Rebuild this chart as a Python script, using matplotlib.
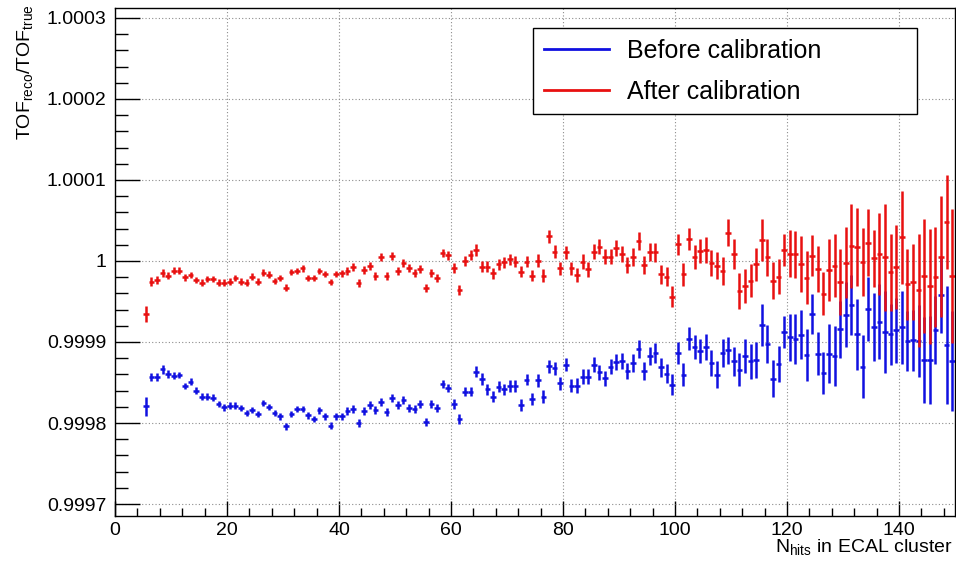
import numpy as np
import matplotlib
matplotlib.use('Agg')
import matplotlib.pyplot as plt
from matplotlib.ticker import FixedLocator, FixedFormatter, MultipleLocator
from matplotlib.lines import Line2D

plt.rcParams['font.family'] = ['Liberation Sans', 'DejaVu Sans']
plt.rcParams['mathtext.fontset'] = 'custom'
plt.rcParams['mathtext.rm'] = 'Liberation Sans'
plt.rcParams['mathtext.it'] = 'Liberation Sans:italic'

# ---------------- data ----------------
first_bin = 5  # bins of width 1, from N_hits = 5 to 149

# deviation of TOF_reco/TOF_true from 1, in units of 1e-6
before_dev_ppm = [
    -179.6, -142.9, -142.9, -133.9, -139.6, -141.6, -140.8, -154.3, -149.0, -160.0,
    -167.3, -167.3, -168.6, -176.3, -180.8, -178.4, -178.4, -181.6, -187.8, -183.7,
    -189.0, -175.5, -180.4, -187.8, -191.8, -204.1, -189.0, -182.4, -182.9, -190.6,
    -195.1, -184.5, -191.8, -203.3, -191.8, -191.8, -185.7, -182.9, -200.0, -185.7,
    -177.6, -184.5, -174.3, -186.5, -168.6, -177.6, -171.4, -181.6, -182.9, -176.7,
    -199.2, -176.7, -181.6, -152.2, -157.1, -176.3, -194.7, -161.2, -161.2, -136.7,
    -145.7, -158.4, -167.3, -155.1, -158.4, -154.3, -154.3, -177.6, -146.5, -170.2,
    -147.3, -167.3, -129.8, -132.7, -151.0, -127.8, -153.9, -153.9, -142.9, -142.9,
    -127.8, -137.6, -144.9, -130.6, -125.0, -123.9, -135.4, -125.9, -108.2, -135.4,
    -116.9, -113.6, -131.3, -139.1, -152.7, -113.6, -140.3, -95.9, -106.6, -110.7,
    -106.6, -125.9, -140.3, -113.6, -110.3, -123.9, -134.2, -117.7, -123.9, -122.6,
    -79.4, -102.5, -145.3, -127.2, -87.3, -93.9, -96.7, -91.0, -116.3, -65.3,
    -114.3, -138.8, -114.3, -117.6, -84.5, -66.5, -54.3, -90.6, -130.6, -59.2,
    -81.6, -74.7, -87.8, -90.6, -85.7, -81.6, -98.8, -98.0, -98.8, -122.4,
    -122.4, -85.7, -42.0, -104.1, -123.3,
]

after_dev_ppm = [
    -65.6, -25.4, -23.4, -15.2, -18.0, -11.9, -11.9, -20.1, -17.2, -23.4,
    -26.7, -22.1, -22.1, -26.7, -26.7, -25.4, -21.3, -25.4, -26.7, -19.3,
    -25.4, -14.4, -16.8, -25.0, -21.3, -32.8, -13.9, -12.3, -9.0, -21.3,
    -21.3, -12.3, -16.0, -26.2, -16.0, -15.2, -12.3, -7.0, -26.7, -11.1,
    -5.7, -18.5, 5.3, -18.0, 6.1, -11.9, -2.0, -9.0, -15.2, -9.8,
    -33.6, -15.2, -21.3, 9.4, 6.8, -9.0, -35.7, 0.0, 7.4, 13.5,
    -7.0, -7.0, -15.2, -4.1, -1.6, 2.0, -0.8, -13.1, -0.8, -18.0,
    0.4, -18.0, 30.7, 11.5, -9.0, 10.7, -9.0, -17.2, -0.8, -10.2,
    11.5, 17.6, 5.3, 5.3, 16.0, 8.2, -4.9, 5.3, 25.0, -4.9,
    11.5, 10.7, -16.4, -19.3, -43.9, 20.5, -16.4, 27.1, 5.3, 12.3,
    13.5, -2.9, -5.7, -12.3, 34.9, 8.6, -36.9, -30.3, -24.2, -4.1,
    25.8, 4.5, -24.2, -19.3, 13.6, 8.7, 8.3, -3.7, -20.7, 6.6,
    -10.0, -40.2, -11.2, -5.8, -25.7, -2.1, 18.7, 17.0, -1.7, 22.8,
    3.3, 8.7, 4.6, -14.1, -7.1, 29.0, -29.0, -25.7, -36.1, -18.3,
    -31.1, -19.5, 5.4, 47.7, -18.3,
]

before_err_ppm = [
    12, 5, 5, 5, 5, 4, 4, 4, 4, 4,
    4, 4, 4, 4, 4, 4, 4, 4, 4, 4,
    4, 4, 4, 4, 4, 4, 4, 4, 4, 4,
    4, 4, 4, 4, 4, 4, 5, 5, 5, 5,
    5, 5, 5, 5, 5, 5, 5, 5, 5, 5,
    5, 5, 5, 5, 5, 6, 6, 6, 6, 7,
    7, 7, 7, 7, 7, 7, 7, 7, 7, 7,
    8, 8, 8, 8, 8, 8, 8, 9, 9, 9,
    9, 9, 9, 9, 10, 10, 10, 11, 11, 11,
    11, 12, 12, 12, 13, 13, 14, 14, 15, 15,
    16, 16, 17, 17, 17, 18, 20, 21, 22, 22,
    26, 23, 23, 22, 20, 29, 31, 30, 32, 25,
    27, 26, 36, 37, 35, 40, 37, 44, 39, 40,
    42, 46, 51, 38, 40, 45, 37, 38, 45, 53,
    54, 42, 47, 73, 62,
]

after_err_ppm = [
    10, 6, 5, 5, 4, 4, 4, 4, 4, 4,
    4, 4, 4, 4, 4, 4, 4, 4, 4, 4,
    4, 4, 4, 4, 4, 4, 4, 4, 4, 4,
    4, 4, 4, 4, 4, 4, 5, 5, 5, 5,
    5, 5, 5, 5, 5, 5, 5, 5, 5, 5,
    5, 5, 5, 5, 5, 6, 6, 6, 6, 7,
    7, 7, 7, 7, 7, 7, 7, 7, 7, 7,
    8, 8, 8, 8, 8, 8, 8, 9, 9, 9,
    9, 9, 9, 9, 10, 10, 10, 11, 11, 11,
    11, 12, 12, 12, 13, 13, 14, 14, 15, 15,
    16, 16, 17, 17, 17, 18, 22, 21, 20, 20,
    26, 23, 23, 22, 20, 29, 29, 34, 33, 25,
    28, 26, 38, 39, 41, 44, 52, 48, 42, 41,
    35, 51, 66, 48, 52, 57, 44, 47, 70, 70,
    71, 62, 75, 58, 83,
]

series_labels = ['Before calibration', 'After calibration']
series_colors = ['#1010e0', '#e81010']

ytick_values = [0.9997, 0.9998, 0.9999, 1.0, 1.0001, 1.0002, 1.0003]
ytick_labels = ['0.9997', '0.9998', '0.9999', '1', '1.0001', '1.0002', '1.0003']
xtick_values = [0, 20, 40, 60, 80, 100, 120, 140]

# ---------------- figure ----------------
W, H = 956, 561
fig = plt.figure(figsize=(W / 100, H / 100), dpi=100)
ax = fig.add_axes([115 / W, 45 / H, 840 / W, 508 / H])

nhits = np.arange(first_bin, first_bin + len(before_dev_ppm)) + 0.5

for dev, err, col in [(before_dev_ppm, before_err_ppm, series_colors[0]),
                      (after_dev_ppm, after_err_ppm, series_colors[1])]:
    y = 1.0 + np.array(dev) * 1e-6
    e = np.array(err) * 1e-6
    ax.errorbar(nhits, y, xerr=0.5, yerr=e, fmt='none', ecolor=col,
                elinewidth=1.8, capsize=0, zorder=3)

ax.set_xlim(0, 150)
ax.set_ylim(0.9996852, 1.0003123)

ax.yaxis.set_major_locator(FixedLocator(ytick_values))
ax.yaxis.set_major_formatter(FixedFormatter(ytick_labels))
ax.yaxis.set_minor_locator(MultipleLocator(0.00002))
ax.xaxis.set_major_locator(FixedLocator(xtick_values))
ax.xaxis.set_minor_locator(MultipleLocator(4))

ax.tick_params(axis='both', which='both', direction='in', labelsize=14, colors='black')
ax.tick_params(axis='y', which='major', length=18, width=1, pad=6)
ax.tick_params(axis='y', which='minor', length=9, width=1)
ax.tick_params(axis='x', which='major', length=11, width=1, pad=4)
ax.tick_params(axis='x', which='minor', length=5.5, width=1)

ax.grid(True, which='major', linestyle=(0, (1, 2)), color='#8c8c8c', linewidth=0.8, zorder=0)
for sp in ax.spines.values():
    sp.set_linewidth(1)
    sp.set_color('black')

# axis titles (ROOT style: at the end of the axes)
fig.text(953 / W, 1 - 547 / H, r'N$_{\mathrm{hits}}$ in ECAL cluster',
         ha='right', va='center', fontsize=14)
fig.text(25 / W, 1 - 4 / H, r'TOF$_{\mathrm{reco}}$/TOF$_{\mathrm{true}}$',
         ha='center', va='top', rotation=90, fontsize=14)

handles = [Line2D([], [], color=series_colors[0], lw=2),
           Line2D([], [], color=series_colors[1], lw=2)]
leg = ax.legend(handles, series_labels, loc='upper left',
                bbox_to_anchor=(533 / W, 1 - 112 / H, 384 / W, 84 / H),
                bbox_transform=fig.transFigure, mode='expand',
                fontsize=18, frameon=True, fancybox=False, shadow=False,
                borderaxespad=0, borderpad=0.42, labelspacing=0.68,
                handlelength=2.6, handletextpad=0.75)
leg.get_frame().set_edgecolor('black')
leg.get_frame().set_linewidth(1)
leg.get_frame().set_facecolor('white')
leg.get_frame().set_alpha(1)

fig.savefig('out.png', dpi=100, facecolor='white')
